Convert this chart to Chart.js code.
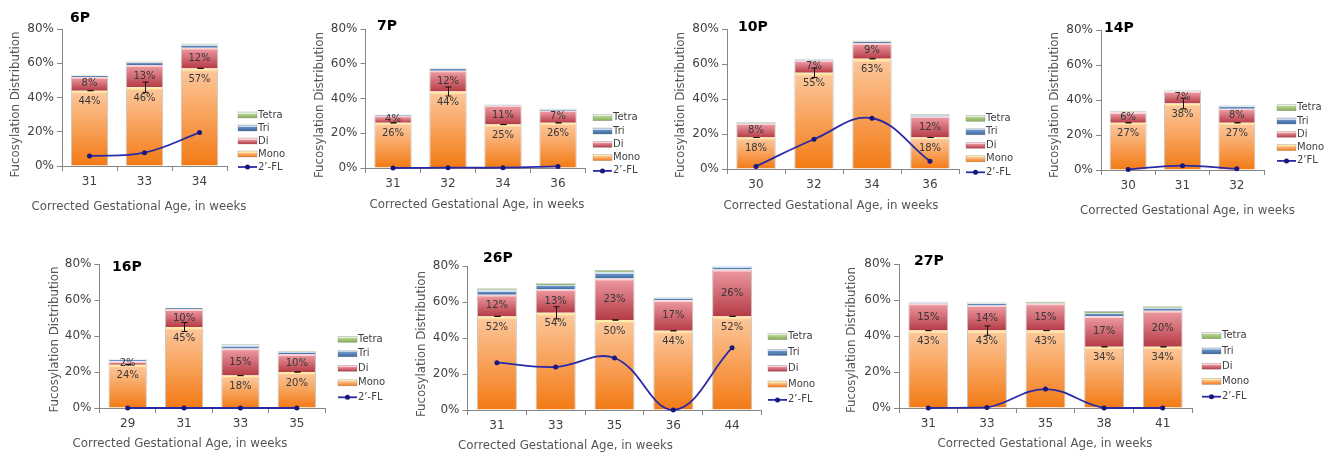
<!DOCTYPE html>
<html>
<head>
<meta charset="utf-8">
<script src="https://cdn.jsdelivr.net/npm/chart.js@4.4.0/dist/chart.umd.min.js"></script>
<style>
  html, body { margin: 0; padding: 0; background: #fff; }
  #board { position: relative; width: 1326px; height: 453px; overflow: hidden; }
  #board canvas { position: absolute; left: 0; top: 0; }
</style>
</head>
<body>
<div id="board"></div>
<script>
// Fucosylation distribution per infant, by corrected gestational age (weeks).
// Stacked: Mono / Di / Tri / Tetra fucosylated fractions; line: 2'-FL.

const weeks6P = ['31', '33', '34'];
const mono6P = [44, 46, 57];
const di6P = [8, 13, 12];
const tri6P = [0.7, 1.5, 2.0];
const tetra6P = [0.3, 0.7, 0.5];
const fl6P = [5.8, 7.8, 19.5];
const err6P = [0, 3, 0];

const weeks7P = ['31', '32', '34', '36'];
const mono7P = [26, 44, 25, 26];
const di7P = [4, 12, 11, 7];
const tri7P = [0.4, 1.2, 0.5, 0.8];
const tetra7P = [0.2, 0.5, 0.2, 0.5];
const fl7P = [0, 0.2, 0.2, 0.9];
const err7P = [0, 2.6, 0, 0];

const weeks10P = ['30', '32', '34', '36'];
const mono10P = [18, 55, 63, 18];
const di10P = [8, 7, 9, 12];
const tri10P = [0.5, 0.6, 0.9, 0.9];
const tetra10P = [0.3, 0.4, 0.5, 0.5];
const fl10P = [1.5, 17, 29, 4.4];
const err10P = [0, 2.7, 0, 0];

const weeks14P = ['30', '31', '32'];
const mono14P = [27, 38, 27];
const di14P = [6, 7, 8];
const tri14P = [0.3, 0.4, 1.5];
const tetra14P = [0.5, 0.3, 0.5];
const fl14P = [0.3, 2.5, 0.7];
const err14P = [0, 3, 0];

const weeks16P = ['29', '31', '33', '35'];
const mono16P = [24, 45, 18, 20];
const di16P = [2, 10, 15, 10];
const tri16P = [0.7, 0.5, 1.8, 1.3];
const tetra16P = [0.4, 0.2, 0.8, 0.4];
const fl16P = [0, 0, 0, 0];
const err16P = [0, 2.5, 0, 0];

const weeks26P = ['31', '33', '35', '36', '44'];
const mono26P = [52, 54, 50, 44, 52];
const di26P = [12, 13, 23, 17, 26];
const tri26P = [2.5, 2.5, 3.5, 1.2, 1.8];
const tetra26P = [1.1, 1.2, 1.3, 0.4, 0.1];
const fl26P = [26.3, 23.9, 28.9, 0, 34.6];
const err26P = [0, 3.4, 0, 0, 0];

const weeks27P = ['31', '33', '35', '38', '41'];
const mono27P = [43, 43, 43, 34, 34];
const di27P = [15, 14, 15, 17, 20];
const tri27P = [0.7, 1.2, 0.4, 1.8, 1.7];
const tetra27P = [0.3, 0.5, 0.6, 1.1, 1.0];
const fl27P = [0, 0.3, 10.5, 0, 0];
const err27P = [0, 2.6, 0, 0, 0];

const yTicks = [0, 20, 40, 60, 80];

// plot boxes on the page (axis line x, axis end x, 80% y, 0% y) and decorations
const layouts = {
  '6P':  { left: 62,    right: 227,   top: 29,  bottom: 166, yTitleX: 15.5,   yTitleY: 104.5, xTitleX: 139,    xTitleY: 207,   titleX: 70,   titleY: 18,    legendX: 238,  legendY: 115,   legendGap: 13 },
  '7P':  { left: 365.5, right: 585.5, top: 29,  bottom: 168, yTitleX: 320,    yTitleY: 105,   xTitleX: 477,    xTitleY: 204.5, titleX: 377,  titleY: 26,    legendX: 593,  legendY: 117.7, legendGap: 13.3 },
  '10P': { left: 727,   right: 959,   top: 29,  bottom: 169, yTitleX: 681,    yTitleY: 105,   xTitleX: 831,    xTitleY: 206,   titleX: 738,  titleY: 27,    legendX: 966,  legendY: 118.3, legendGap: 13.5 },
  '14P': { left: 1101,  right: 1264,  top: 30,  bottom: 170, yTitleX: 1054.5, yTitleY: 105,   xTitleX: 1187.5, xTitleY: 210.5, titleX: 1104, titleY: 28.5,  legendX: 1277, legendY: 107.7, legendGap: 13.3 },
  '16P': { left: 99.5,  right: 325,   top: 264, bottom: 408, yTitleX: 55,     yTitleY: 339.5, xTitleX: 180,    xTitleY: 443.5, titleX: 112,  titleY: 267.5, legendX: 338,  legendY: 339.3, legendGap: 14.5 },
  '26P': { left: 467.5, right: 761.5, top: 266, bottom: 410, yTitleX: 421.5,  yTitleY: 344,   xTitleX: 565.5,  xTitleY: 446,   titleX: 483,  titleY: 258.5, legendX: 768,  legendY: 336.7, legendGap: 15.8 },
  '27P': { left: 899,   right: 1192,  top: 264, bottom: 408, yTitleX: 852,    yTitleY: 340,   xTitleX: 1045,   xTitleY: 443.5, titleX: 914,  titleY: 261.5, legendX: 1202, legendY: 335.7, legendGap: 15.25 }
};

const panels = [
  { name: '6P',  weeks: weeks6P,  mono: mono6P,  di: di6P,  tri: tri6P,  tetra: tetra6P,  fl: fl6P,  err: err6P,  flName: '2’-FL' },
  { name: '7P',  weeks: weeks7P,  mono: mono7P,  di: di7P,  tri: tri7P,  tetra: tetra7P,  fl: fl7P,  err: err7P,  flName: '2’-FL' },
  { name: '10P', weeks: weeks10P, mono: mono10P, di: di10P, tri: tri10P, tetra: tetra10P, fl: fl10P, err: err10P, flName: '2’-FL' },
  { name: '14P', weeks: weeks14P, mono: mono14P, di: di14P, tri: tri14P, tetra: tetra14P, fl: fl14P, err: err14P, flName: '2’FL' },
  { name: '16P', weeks: weeks16P, mono: mono16P, di: di16P, tri: tri16P, tetra: tetra16P, fl: fl16P, err: err16P, flName: '2’-FL' },
  { name: '26P', weeks: weeks26P, mono: mono26P, di: di26P, tri: tri26P, tetra: tetra26P, fl: fl26P, err: err26P, flName: '2’-FL' },
  { name: '27P', weeks: weeks27P, mono: mono27P, di: di27P, tri: tri27P, tetra: tetra27P, fl: fl27P, err: err27P, flName: '2’-FL' }
];

const X_TITLE = 'Corrected Gestational Age, in weeks';
const Y_TITLE = 'Fucosylation Distribution';

const W = 1326, H = 453;
const FONT = '"DejaVu Sans", Verdana, sans-serif';
const AXIS_GREY = '#868686';
const TICK_GREY = '#404040';
const TITLE_GREY = '#555555';
const TITLE_SIZE = 11.8;
const LINE_BLUE = '#2a2aa6';
const POINT_BLUE = '#17177e';

const palettes = {
  Mono:  { hi: '#ffeaa6', top: '#fcc598', bottom: '#f37a14' },
  Di:    { hi: '#fbd2d6', top: '#ea949c', bottom: '#b53b46' },
  Tri:   { hi: '#c6d9ef', top: '#6b94c6', bottom: '#3a679e' },
  Tetra: { hi: '#e6f2d9', top: '#b6d494', bottom: '#86ad57' }
};

function verticalFill(c, pal, top, bottom) {
  const h = Math.max(bottom - top, 1);
  const g = c.createLinearGradient(0, top, 0, bottom);
  const hl = Math.min(1.5 / h, 0.4);
  g.addColorStop(0, pal.hi);
  g.addColorStop(hl, pal.hi);
  g.addColorStop(Math.min(hl + 0.02, 1), pal.top);
  g.addColorStop(1, pal.bottom);
  return g;
}

// gradient per stacked segment, computed from the y scale
function segmentFill(pal) {
  return function (ctx) {
    const chart = ctx.chart;
    if (ctx.type !== 'data' || !chart.chartArea) return pal.bottom;
    const ds = chart.data.datasets;
    let base = 0;
    for (let k = 0; k < ctx.datasetIndex; k++) {
      if (ds[k].type !== 'line') base += ds[k].data[ctx.dataIndex];
    }
    const v = ds[ctx.datasetIndex].data[ctx.dataIndex];
    const y = chart.scales.y;
    return verticalFill(chart.ctx, pal, y.getPixelForValue(base + v), y.getPixelForValue(base));
  };
}

const panelDecor = {
  id: 'panelDecor',
  afterDatasetsDraw(chart, args, opts) {
    const c = chart.ctx;
    const y = chart.scales.y;
    const mono = chart.data.datasets[0].data;
    const di = chart.data.datasets[1].data;
    const bars = chart.getDatasetMeta(0).data;
    c.save();
    // error bars on the Mono segment
    c.strokeStyle = '#111';
    c.lineWidth = 1;
    bars.forEach((bar, j) => {
      const e = opts.err[j];
      const x = Math.round(bar.x) + 0.5;
      const y1 = y.getPixelForValue(mono[j] + e);
      const y2 = y.getPixelForValue(mono[j] - e);
      c.beginPath();
      c.moveTo(x, y1); c.lineTo(x, y2);
      c.moveTo(x - 3, y1); c.lineTo(x + 3, y1);
      c.moveTo(x - 3, y2); c.lineTo(x + 3, y2);
      c.stroke();
    });
    // value labels
    c.font = '10px ' + FONT;
    c.fillStyle = '#383838';
    c.textAlign = 'center';
    c.textBaseline = 'middle';
    bars.forEach((bar, j) => {
      const mTop = y.getPixelForValue(mono[j]);
      const dTop = y.getPixelForValue(mono[j] + di[j]);
      c.fillText(mono[j] + '%', bar.x, mTop + 11);
      c.fillText(di[j] + '%', bar.x, (mTop + dTop) / 2);
    });
    c.restore();
  },
  afterDraw(chart, args, opts) {
    const c = chart.ctx;
    c.save();
    // axis titles
    c.font = TITLE_SIZE + 'px ' + FONT;
    c.fillStyle = TITLE_GREY;
    c.textAlign = 'center';
    c.textBaseline = 'middle';
    c.fillText(X_TITLE, opts.xTitleX, opts.xTitleY);
    c.save();
    c.translate(opts.yTitleX, opts.yTitleY);
    c.rotate(-Math.PI / 2);
    c.fillText(Y_TITLE, 0, 0);
    c.restore();
    // panel name
    c.font = 'bold 14px ' + FONT;
    c.fillStyle = '#000';
    c.textAlign = 'left';
    c.fillText(opts.name, opts.titleX, opts.titleY);
    // legend: Tetra, Tri, Di, Mono, then the 2'-FL line
    const order = ['Tetra', 'Tri', 'Di', 'Mono'];
    c.font = '10px ' + FONT;
    order.forEach((key, i) => {
      const cy = opts.legendY + i * opts.legendGap;
      const x0 = opts.legendX;
      c.fillStyle = verticalFill(c, palettes[key], cy - 3, cy + 3);
      c.fillRect(x0, cy - 3, 19, 6);
      c.strokeStyle = 'rgba(120,120,120,0.5)';
      c.lineWidth = 0.6;
      c.strokeRect(x0, cy - 3, 19, 6);
      c.fillStyle = TICK_GREY;
      c.fillText(key, x0 + 20, cy);
    });
    const ly = opts.legendY + 4 * opts.legendGap;
    c.strokeStyle = LINE_BLUE;
    c.lineWidth = 1.8;
    c.beginPath();
    c.moveTo(opts.legendX, ly);
    c.lineTo(opts.legendX + 19, ly);
    c.stroke();
    c.fillStyle = POINT_BLUE;
    c.beginPath();
    c.arc(opts.legendX + 9.5, ly, 2.5, 0, Math.PI * 2);
    c.fill();
    c.fillStyle = TICK_GREY;
    c.fillText(opts.flName, opts.legendX + 20, ly);
    c.restore();
  }
};

const board = document.getElementById('board');

panels.forEach(p => {
  const b = layouts[p.name];
  const canvas = document.createElement('canvas');
  canvas.width = W;
  canvas.height = H;
  canvas.style.width = W + 'px';
  canvas.style.height = H + 'px';
  board.appendChild(canvas);

  // fixed axis boxes so the plot area lands on the panel's box
  const yW = 45;
  const xH = 25;

  const barStyle = (label, data, pal) => ({
    label: label,
    data: data,
    stack: 'fucosylation',
    order: 1,
    backgroundColor: segmentFill(pal),
    borderColor: 'rgba(170,170,170,0.7)',
    borderWidth: { left: 1, right: 1, top: label === 'Tetra' ? 1 : 0, bottom: 0 },
    borderSkipped: false,
    barPercentage: 0.68,
    categoryPercentage: 1
  });

  new Chart(canvas, {
    type: 'bar',
    data: {
      labels: p.weeks,
      datasets: [
        barStyle('Mono', p.mono, palettes.Mono),
        barStyle('Di', p.di, palettes.Di),
        barStyle('Tri', p.tri, palettes.Tri),
        barStyle('Tetra', p.tetra, palettes.Tetra),
        {
          type: 'line',
          label: p.flName,
          data: p.fl,
          stack: 'fl',
          order: 0,
          borderColor: LINE_BLUE,
          borderWidth: 1.8,
          tension: 0.4,
          fill: false,
          clip: 4,
          pointRadius: 2.5,
          pointBorderWidth: 0,
          pointBackgroundColor: POINT_BLUE
        }
      ]
    },
    options: {
      responsive: false,
      animation: false,
      devicePixelRatio: 1,
      layout: {
        padding: { left: b.left - yW, right: W - b.right, top: b.top, bottom: H - b.bottom - xH }
      },
      plugins: {
        legend: { display: false },
        tooltip: { enabled: false },
        title: { display: false },
        panelDecor: {
          name: p.name, flName: p.flName, err: p.err,
          titleX: b.titleX, titleY: b.titleY,
          xTitleX: b.xTitleX, xTitleY: b.xTitleY,
          yTitleX: b.yTitleX, yTitleY: b.yTitleY,
          legendX: b.legendX, legendY: b.legendY, legendGap: b.legendGap
        }
      },
      scales: {
        x: {
          stacked: true,
          grid: { drawOnChartArea: false, drawTicks: true, tickLength: 5, color: AXIS_GREY, offset: true },
          border: { display: true, color: AXIS_GREY, width: 1 },
          ticks: { color: TICK_GREY, font: { family: FONT, size: 12 }, padding: 4, maxRotation: 0 },
          afterFit: s => { s.height = xH; }
        },
        y: {
          stacked: true,
          min: 0,
          max: 80,
          afterBuildTicks: s => { s.ticks = yTicks.map(v => ({ value: v })); },
          grid: { drawOnChartArea: false, drawTicks: true, tickLength: 5, color: AXIS_GREY },
          border: { display: true, color: AXIS_GREY, width: 1 },
          ticks: { color: TICK_GREY, font: { family: FONT, size: 12 }, padding: 3, callback: v => v + '%' },
          afterFit: s => { s.width = yW; }
        }
      }
    },
    plugins: [panelDecor]
  });
});
</script>
</body>
</html>
